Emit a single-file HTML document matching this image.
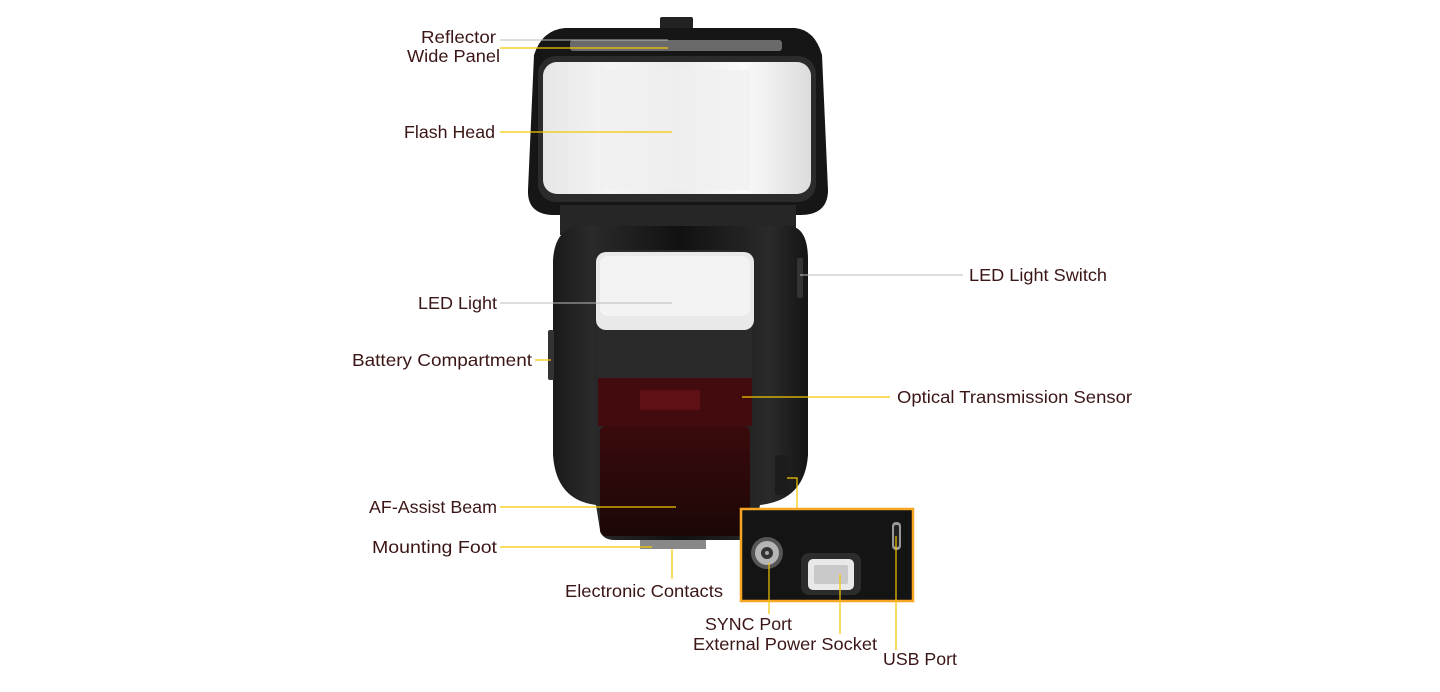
<!DOCTYPE html>
<html><head><meta charset="utf-8"><style>
html,body{margin:0;padding:0;background:#fff;}
svg{display:block}
text{font-family:"Liberation Sans",sans-serif;font-size:17.5px;fill:#3b1616;}
</style></head><body>
<svg width="1440" height="692" viewBox="0 0 1440 692" xmlns="http://www.w3.org/2000/svg">
<defs>
<linearGradient id="face" x1="0" x2="1" y1="0" y2="0">
<stop offset="0" stop-color="#e6e6e6"/><stop offset="0.25" stop-color="#f4f4f4"/><stop offset="0.5" stop-color="#ececec"/><stop offset="0.75" stop-color="#fafafa"/><stop offset="1" stop-color="#dcdcdc"/>
</linearGradient>
<linearGradient id="body" x1="0" x2="1" y1="0" y2="0">
<stop offset="0" stop-color="#1a1a1a"/><stop offset="0.15" stop-color="#2a2a2a"/><stop offset="0.5" stop-color="#111"/><stop offset="0.85" stop-color="#2a2a2a"/><stop offset="1" stop-color="#141414"/>
</linearGradient>
<linearGradient id="red" x1="0" x2="0" y1="0" y2="1">
<stop offset="0" stop-color="#3a0a0c"/><stop offset="1" stop-color="#1c0707"/>
</linearGradient>
</defs>
<rect x="660" y="17" width="33" height="12" rx="2" fill="#222"/>
<path d="M565 28 L795 28 Q815 30 822 55 L828 190 Q828 215 800 215 L555 215 Q527 215 528 190 L534 55 Q542 30 565 28Z" fill="#161616"/>
<rect x="570" y="40" width="212" height="11" rx="3" fill="#6a6a6a"/>
<rect x="538" y="56" width="278" height="146" rx="18" fill="#2b2b2b"/>
<rect x="543" y="62" width="268" height="132" rx="14" fill="url(#face)"/>
<rect x="600" y="70" width="150" height="120" fill="#efefef" opacity="0.7"/>
<rect x="560" y="205" width="236" height="30" fill="#262626"/>
<path d="M580 226 L790 226 Q808 228 808 260 L808 455 Q805 500 760 505 L755 530 Q752 540 740 540 L615 540 Q602 540 600 530 L596 505 Q556 500 553 455 L553 260 Q555 228 580 226Z" fill="url(#body)"/>
<path d="M598 265 Q600 252 615 250 L735 250 Q750 252 752 265 L752 378 L598 378Z" fill="#2a2a2a"/>
<rect x="596" y="252" width="158" height="78" rx="10" fill="#e9e9e9"/>
<rect x="600" y="256" width="150" height="60" rx="8" fill="#f3f3f3"/>
<rect x="598" y="378" width="154" height="48" fill="#420b0e"/>
<rect x="640" y="390" width="60" height="20" fill="#6a1418" opacity="0.7"/>
<rect x="600" y="426" width="150" height="110" rx="6" fill="url(#red)"/>
<rect x="548" y="330" width="6" height="50" rx="2" fill="#333"/>
<rect x="797" y="258" width="6" height="40" rx="2" fill="#333"/>
<rect x="775" y="455" width="14" height="40" rx="3" fill="#1c1c1c"/>
<rect x="640" y="540" width="66" height="9" fill="#888"/>
<rect x="741" y="509" width="172" height="92" fill="#141414" stroke="#f5a623" stroke-width="2.5"/>
<circle cx="767" cy="553" r="16" fill="#555"/><circle cx="767" cy="553" r="12" fill="#b5b5b5"/><circle cx="767" cy="553" r="6" fill="#333"/><circle cx="767" cy="553" r="2" fill="#aaa"/>
<rect x="801" y="553" width="60" height="42" rx="8" fill="#2c2c2c"/>
<rect x="808" y="559" width="46" height="31" rx="5" fill="#e8e8e8"/>
<rect x="814" y="565" width="34" height="19" rx="2" fill="#c9c9c9"/>
<rect x="892" y="522" width="9" height="28" rx="4" fill="#999"/><rect x="894" y="525" width="5" height="22" rx="2" fill="#222"/>
<g stroke="#f5c800" stroke-width="1.2" fill="none">
<line x1="500" y1="48" x2="668" y2="48"/>
<line x1="500" y1="132" x2="672" y2="132"/>
<line x1="535" y1="360" x2="551" y2="360"/>
<line x1="742" y1="397" x2="890" y2="397"/>
<line x1="500" y1="507" x2="676" y2="507"/>
<line x1="500" y1="547" x2="652" y2="547"/>
<line x1="672" y1="549" x2="672" y2="579"/>
<polyline points="787,478 797,478 797,508"/>
<line x1="769" y1="563" x2="769" y2="614"/>
<line x1="840" y1="574" x2="840" y2="634"/>
<line x1="896" y1="536" x2="896" y2="650"/>
</g>
<g stroke="#bbb" stroke-width="1" fill="none">
<line x1="500" y1="40" x2="668" y2="40"/>
<line x1="500" y1="303" x2="672" y2="303"/>
<line x1="800" y1="275" x2="963" y2="275"/>
</g>
<text x="421" y="43" textLength="75" lengthAdjust="spacingAndGlyphs">Reflector</text>
<text x="407" y="62" textLength="93" lengthAdjust="spacingAndGlyphs">Wide Panel</text>
<text x="404" y="138" textLength="91" lengthAdjust="spacingAndGlyphs">Flash Head</text>
<text x="418" y="309" textLength="79" lengthAdjust="spacingAndGlyphs">LED Light</text>
<text x="352" y="366" textLength="180" lengthAdjust="spacingAndGlyphs">Battery Compartment</text>
<text x="969" y="281" textLength="138" lengthAdjust="spacingAndGlyphs">LED Light Switch</text>
<text x="897" y="403" textLength="235" lengthAdjust="spacingAndGlyphs">Optical Transmission Sensor</text>
<text x="369" y="513" textLength="128" lengthAdjust="spacingAndGlyphs">AF-Assist Beam</text>
<text x="372" y="553" textLength="125" lengthAdjust="spacingAndGlyphs">Mounting Foot</text>
<text x="565" y="597" textLength="158" lengthAdjust="spacingAndGlyphs">Electronic Contacts</text>
<text x="705" y="630" textLength="87" lengthAdjust="spacingAndGlyphs">SYNC Port</text>
<text x="693" y="650" textLength="184" lengthAdjust="spacingAndGlyphs">External Power Socket</text>
<text x="883" y="665" textLength="74" lengthAdjust="spacingAndGlyphs">USB Port</text>
</svg>
</body></html>
